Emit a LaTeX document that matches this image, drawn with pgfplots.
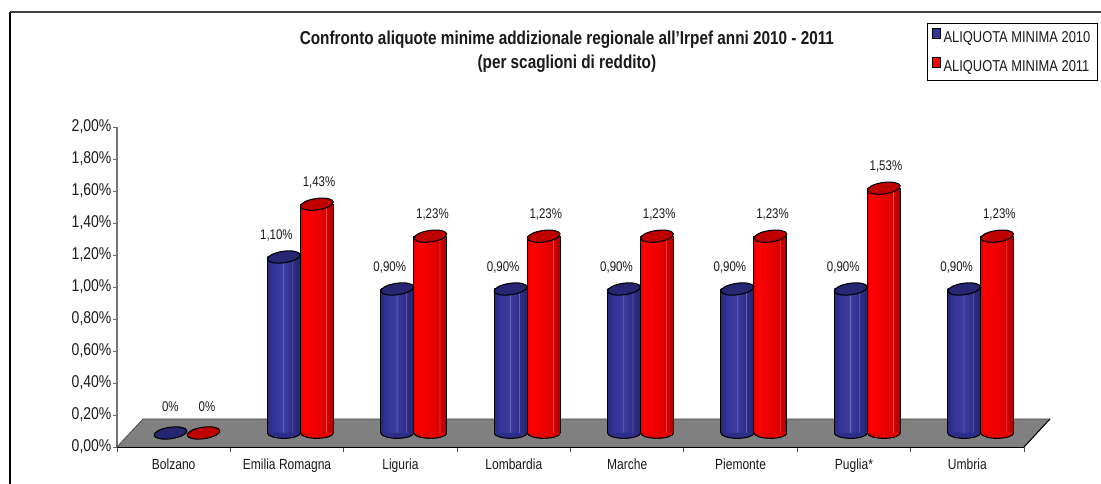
\documentclass[border=0pt]{standalone}
\usepackage{pgfplots}
\pgfplotsset{compat=1.18}
\usepackage{fontspec}
\setmainfont[FakeStretch=0.82]{Liberation Sans}
\definecolor{txt}{RGB}{25,25,25}
\definecolor{blueA}{RGB}{51,51,153}
\definecolor{redA}{RGB}{255,0,0}
\definecolor{floorg}{RGB}{128,128,128}
\pgfdeclarehorizontalshading{bluecyl}{100bp}{color(0bp)=(blueA!80!black); color(25bp)=(blueA!80!black); color(29bp)=(blueA!90!black); color(34bp)=(blueA); color(48bp)=(blueA!95!white); color(49bp)=(blueA!70!white); color(50bp)=(blueA!95!white); color(62bp)=(blueA!90!black); color(63bp)=(blueA!70!white); color(64bp)=(blueA!88!black); color(75bp)=(blueA!72!black); color(100bp)=(blueA!72!black)}
\pgfdeclarehorizontalshading{redcyl}{100bp}{color(0bp)=(redA); color(25bp)=(redA!90!black); color(30bp)=(redA); color(52bp)=(redA!92!black); color(63bp)=(redA!85!black); color(64bp)=(redA!65!white); color(65bp)=(redA!83!black); color(75bp)=(redA!68!black); color(100bp)=(redA!68!black)}
\pgfdeclareplotmark{cylend}{\pgfpathellipse{\pgfpointorigin}{\pgfpointpolar{8}{12.4pt}}{\pgfpointpolar{98}{4.3pt}}\pgfusepathqfillstroke}
\pgfdeclareplotmark{cylbase}{\pgfpathmoveto{\pgfqpoint{-12.3pt}{0pt}}\pgfpatharc{180}{360}{12.3pt and 4pt}\pgfusepathqfillstroke}
\begin{document}
\begin{tikzpicture}
\path[use as bounding box] (0,0) rectangle (825.75pt,363pt);
\fill[white] (0,0) rectangle (825.75pt,363pt);
\draw[black,line width=0.8pt] (7.5pt,0pt) -- (7.5pt,354pt);
\draw[black!75,line width=1.4pt] (7.2pt,354pt) -- (825.75pt,354pt);
\begin{axis}[
  at={(87.75pt,27.75pt)},anchor=south west,
  scale only axis,width=680.25pt,height=240pt,
  xmin=-0.5,xmax=7.5,ymin=0,ymax=2,clip=false,
  axis x line*=bottom,axis y line*=left,
  x axis line style={black,line width=0.8pt,-},
  y axis line style={black!55,line width=0.8pt,-},
  tick align=outside,
  xtick={0,...,7},
  xticklabels={Bolzano,Emilia Romagna,Liguria,Lombardia,Marche,Piemonte,Puglia*,Umbria},
  major x tick style={draw=none},
  minor xtick={-0.5,0.5,...,7.5},
  minor tick length=4pt,
  minor x tick style={black!70,line width=0.6pt},
  ytick={0,0.2,...,2.01},
  yticklabels={{0,00\%},{0,20\%},{0,40\%},{0,60\%},{0,80\%},{1,00\%},{1,20\%},{1,40\%},{1,60\%},{1,80\%},{2,00\%}},
  major tick length=3pt,
  y tick style={black!60,line width=0.6pt},
  ticklabel style={text=txt},
  xticklabel style={font=\fontsize{11}{13}\selectfont,yshift=-2.5pt},
  yticklabel style={font=\fontsize{12.8}{14}\selectfont,inner sep=1pt},
  title={Confronto aliquote minime addizionale regionale all'Irpef anni 2010 - 2011\\(per scaglioni di reddito)},
  title style={at={(0.496,1.209)},anchor=center,align=center,font=\fontsize{14}{18}\selectfont\bfseries,text=txt},
  legend style={at={(1.0816,1.325)},anchor=north east,draw=black,line width=0.6pt,font=\fontsize{11.8}{14}\selectfont,row sep=7pt,inner xsep=3.5pt,inner ysep=3.5pt,text=txt},
  legend cell align=left,
  legend image code/.code={\draw[#1] (0pt,-0.2pt) rectangle (6pt,7.4pt);},
  sh/.style={xshift=10pt,yshift=10.5pt},
  lab/.style={sh,forget plot,only marks,mark=none,point meta=explicit symbolic,nodes near coords,
     nodes near coords style={font=\fontsize{10.5}{12}\selectfont,text=txt,anchor=center,yshift=16pt}},
  cylb/.style={sh,forget plot,ybar,bar width=24.6pt,bar shift=-12.4pt,draw=none,shading=bluecyl},
  cylr/.style={sh,forget plot,ybar,bar width=24.6pt,bar shift=12.4pt,draw=none,shading=redcyl},
  edge/.style={sh,forget plot,ycomb,mark=none,black,line width=0.8pt},
  ends/.style={sh,forget plot,only marks},
]
\addlegendimage{draw=black,fill=blueA,line width=0.5pt}
\addlegendentry{ALIQUOTA MINIMA 2010}
\addlegendimage{draw=black,fill=redA,line width=0.5pt}
\addlegendentry{ALIQUOTA MINIMA 2011}

\fill[floorg] (axis cs:-0.5,0) -- ([shift={(19.5pt,21pt)}]axis cs:-0.5,0) -- ([shift={(19.5pt,21pt)}]axis cs:7.5,0) -- (axis cs:7.5,0) -- cycle;
\draw[black!70,line width=0.6pt] (axis cs:-0.5,0) -- ([shift={(19.5pt,21pt)}]axis cs:-0.5,0) -- ([shift={(19.5pt,21pt)}]axis cs:7.5,0);
\draw[black,line width=0.8pt] (axis cs:7.5,0) -- ([shift={(19.5pt,21pt)}]axis cs:7.5,0);

% blue bases
\addplot[ends,mark=cylbase,xshift=-12.4pt,mark options={draw=black,fill=blueA!90!black,line width=0.8pt}]
 coordinates {(1,0)(2,0)(3,0)(4,0)(5,0)(6,0)(7,0)};
% blue cylinders
\addplot[cylb] coordinates {(1,1.10)};
\addplot[cylb] coordinates {(2,0.90)};
\addplot[cylb] coordinates {(3,0.90)};
\addplot[cylb] coordinates {(4,0.90)};
\addplot[cylb] coordinates {(5,0.90)};
\addplot[cylb] coordinates {(6,0.90)};
\addplot[cylb] coordinates {(7,0.90)};
\addplot[edge,xshift=-24.7pt] coordinates {(1,1.10)(2,0.90)(3,0.90)(4,0.90)(5,0.90)(6,0.90)(7,0.90)};
% blue tops
\addplot[ends,mark=cylend,xshift=-12.4pt,mark options={draw=black,fill=blueA!75!black,line width=0.8pt}]
 coordinates {(0,0)(1,1.10)(2,0.90)(3,0.90)(4,0.90)(5,0.90)(6,0.90)(7,0.90)};
% red bases
\addplot[ends,mark=cylbase,xshift=12.4pt,mark options={draw=black,fill=redA!90!black,line width=0.8pt}]
 coordinates {(1,0)(2,0)(3,0)(4,0)(5,0)(6,0)(7,0)};
% red cylinders
\addplot[cylr] coordinates {(1,1.43)};
\addplot[cylr] coordinates {(2,1.23)};
\addplot[cylr] coordinates {(3,1.23)};
\addplot[cylr] coordinates {(4,1.23)};
\addplot[cylr] coordinates {(5,1.23)};
\addplot[cylr] coordinates {(6,1.53)};
\addplot[cylr] coordinates {(7,1.23)};
\addplot[edge] coordinates {(1,1.43)(2,1.23)(3,1.23)(4,1.23)(5,1.23)(6,1.53)(7,1.23)};
\addplot[edge,xshift=24.7pt] coordinates {(1,1.43)(2,1.23)(3,1.23)(4,1.23)(5,1.23)(6,1.53)(7,1.23)};
% red tops
\addplot[ends,mark=cylend,xshift=12.4pt,mark options={draw=black,fill=redA!75!black,line width=0.8pt}]
 coordinates {(0,0)(1,1.43)(2,1.23)(3,1.23)(4,1.23)(5,1.23)(6,1.53)(7,1.23)};
% data labels
\addplot[lab,xshift=-12.5pt,yshift=4pt] coordinates {(0,0)[0\%]};
\addplot[lab,xshift=15pt,yshift=4pt] coordinates {(0,0)[0\%]};
\addplot[lab,xshift=-18pt] coordinates {(1,1.10)[1,10\%] (2,0.90)[0,90\%] (3,0.90)[0,90\%] (4,0.90)[0,90\%] (5,0.90)[0,90\%] (6,0.90)[0,90\%] (7,0.90)[0,90\%]};
\addplot[lab,xshift=14pt] coordinates {(1,1.43)[1,43\%] (2,1.23)[1,23\%] (3,1.23)[1,23\%] (4,1.23)[1,23\%] (5,1.23)[1,23\%] (6,1.53)[1,53\%] (7,1.23)[1,23\%]};
\end{axis}
\end{tikzpicture}
\end{document}
